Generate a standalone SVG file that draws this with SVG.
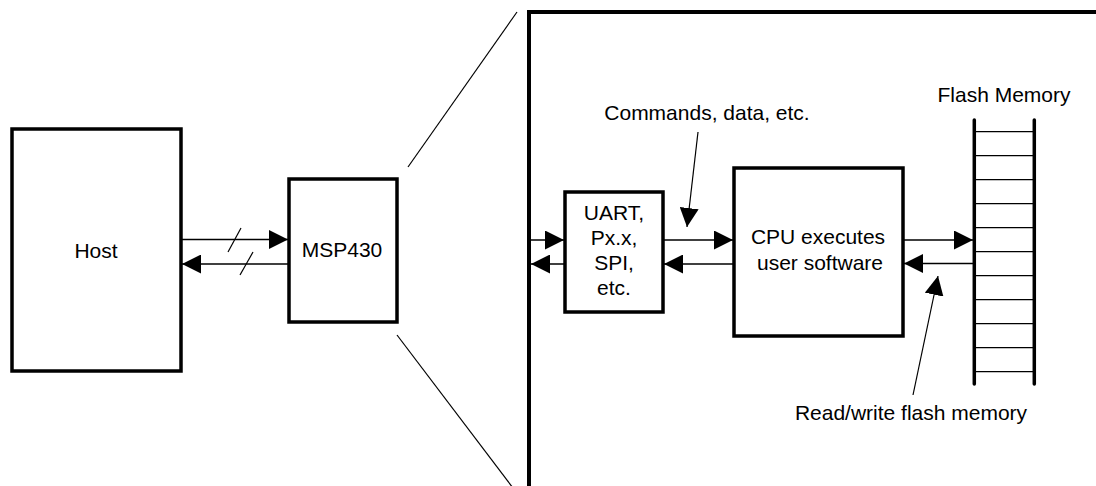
<svg xmlns="http://www.w3.org/2000/svg" width="1096" height="486" viewBox="0 0 1096 486">
<style>
.box{fill:#fff;stroke:#000;stroke-width:3.5}
.ln{stroke:#000;stroke-width:1.5;fill:none}
.thin{stroke:#000;stroke-width:1.2;fill:none}
.rail{stroke:#000;stroke-width:3.5;stroke-linecap:round}
.t{font-family:"Liberation Sans",Arial,sans-serif;font-size:21px;fill:#000;text-anchor:middle}
</style>
<defs>
<marker id="ah" markerUnits="userSpaceOnUse" markerWidth="19" markerHeight="19" refX="19" refY="9.5" orient="auto">
<path d="M0,0 L19,9.5 L0,19 z" fill="#000"/>
</marker>
</defs>
<rect width="1096" height="486" fill="#fff"/>
<g id="zoomframe">
<path d="M529,490 V12 H1100" class="box" fill="none" style="fill:none;stroke-width:4"/>
<line x1="408" y1="167" x2="517" y2="12" class="thin"/>
<line x1="397" y1="335" x2="513" y2="488" class="thin"/>
</g>
<g id="host">
<rect x="12" y="129" width="169" height="242" class="box"/>
<text x="96" y="258" class="t">Host</text>
</g>
<g id="msp430">
<rect x="289" y="179" width="108" height="143" class="box"/>
<text x="342" y="257" class="t">MSP430</text>
</g>
<g id="uart">
<rect x="565" y="192" width="98" height="120" class="box"/>
<text x="614" y="220" class="t">UART,</text>
<text x="614" y="245" class="t">Px.x,</text>
<text x="614" y="270" class="t">SPI,</text>
<text x="614" y="295" class="t">etc.</text>
</g>
<g id="cpu">
<rect x="734" y="168" width="169" height="168" class="box"/>
<text x="818" y="244" class="t">CPU executes</text>
<text x="820" y="270" class="t">user software</text>
</g>
<g id="flash">
<text x="1004" y="102" class="t">Flash Memory</text>
<g class="thin" style="stroke-width:1.2">
<line x1="974" y1="131.7" x2="1034" y2="131.7"/>
<line x1="974" y1="155.7" x2="1034" y2="155.7"/>
<line x1="974" y1="179.7" x2="1034" y2="179.7"/>
<line x1="974" y1="203.7" x2="1034" y2="203.7"/>
<line x1="974" y1="227.7" x2="1034" y2="227.7"/>
<line x1="974" y1="251.7" x2="1034" y2="251.7"/>
<line x1="974" y1="275.7" x2="1034" y2="275.7"/>
<line x1="974" y1="299.7" x2="1034" y2="299.7"/>
<line x1="974" y1="323.7" x2="1034" y2="323.7"/>
<line x1="974" y1="347.7" x2="1034" y2="347.7"/>
<line x1="974" y1="371.7" x2="1034" y2="371.7"/>
</g>
<line x1="974.3" y1="120" x2="974.3" y2="384" class="rail"/>
<line x1="1034.3" y1="120" x2="1034.3" y2="384" class="rail"/>
</g>
<g id="labels">
<text x="707" y="120" class="t">Commands, data, etc.</text>
<text x="911" y="420" class="t">Read/write flash memory</text>
</g>
<g id="connectors">
<line x1="181" y1="239.5" x2="288" y2="239.5" class="ln" marker-end="url(#ah)"/>
<line x1="289" y1="264" x2="182" y2="264" class="ln" marker-end="url(#ah)"/>
<line x1="228" y1="252" x2="241" y2="228" class="thin"/>
<line x1="240" y1="275" x2="253" y2="252" class="thin"/>
<line x1="529" y1="240" x2="564" y2="240" class="ln" marker-end="url(#ah)"/>
<line x1="565" y1="264" x2="531" y2="264" class="ln" marker-end="url(#ah)"/>
<line x1="663" y1="240" x2="733" y2="240" class="ln" marker-end="url(#ah)"/>
<line x1="734" y1="264" x2="664" y2="264" class="ln" marker-end="url(#ah)"/>
<line x1="903" y1="240" x2="973" y2="240" class="ln" marker-end="url(#ah)"/>
<line x1="974" y1="263.5" x2="904" y2="263.5" class="ln" marker-end="url(#ah)"/>
<line x1="698" y1="132" x2="687" y2="227" class="thin" marker-end="url(#ah)"/>
<line x1="913" y1="395" x2="938" y2="276" class="thin" marker-end="url(#ah)"/>
</g>
</svg>
